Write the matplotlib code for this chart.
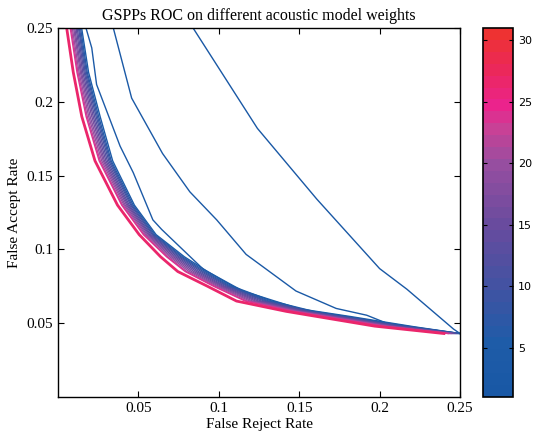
import numpy as np
import matplotlib
matplotlib.use("Agg")
import matplotlib.pyplot as plt
from matplotlib.colors import LinearSegmentedColormap, Normalize
from matplotlib.cm import ScalarMappable

# ---------------- data ----------------
title = "GSPPs ROC on different acoustic model weights"
xlabel = "False Reject Rate"
ylabel = "False Accept Rate"
xticks = [0.05, 0.1, 0.15, 0.2, 0.25]
yticks = [0.05, 0.1, 0.15, 0.2, 0.25]
cbar_ticks = [5, 10, 15, 20, 25, 30]

# outlying curves (weights 1-3): explicit (FR, FA) points
w1_fr = [0.084, 0.124, 0.161, 0.200, 0.217, 0.246, 0.250]
w1_fa = [0.250, 0.182, 0.134, 0.087, 0.073, 0.046, 0.043]

w2_fr = [0.0344, 0.0458, 0.065, 0.082, 0.0987, 0.117, 0.148, 0.173, 0.192, 0.206, 0.250]
w2_fa = [0.250, 0.2025, 0.165, 0.139, 0.120, 0.0966, 0.0718, 0.060, 0.0554, 0.0493, 0.043]

w3_fr = [0.0174, 0.021, 0.024, 0.0386, 0.0468, 0.059, 0.0645, 0.0904, 0.115, 0.150, 0.182, 0.222, 0.250]
w3_fa = [0.250, 0.2365, 0.2117, 0.170, 0.152, 0.120, 0.1135, 0.0865, 0.0718, 0.0598, 0.0545, 0.0475, 0.043]

# bundle curves: FR values at common FA levels
bundle_fa = [0.25, 0.22, 0.19, 0.16, 0.13, 0.11, 0.095, 0.085, 0.075, 0.065, 0.058, 0.053, 0.048, 0.043]
w4_fr = [0.0147, 0.0190, 0.0262, 0.0340, 0.0475, 0.0610, 0.0786, 0.0930, 0.1085, 0.1330, 0.1590, 0.1880, 0.2170, 0.2500]
w6_fr = [0.0140, 0.0182, 0.0253, 0.0331, 0.0467, 0.0602, 0.0774, 0.0915, 0.1073, 0.1312, 0.1576, 0.1865, 0.2154, 0.2492]
w8_fr = [0.0133, 0.0176, 0.0245, 0.0324, 0.0459, 0.0594, 0.0764, 0.0902, 0.1062, 0.1297, 0.1564, 0.1852, 0.2140, 0.2485]
w10_fr = [0.0127, 0.0169, 0.0237, 0.0316, 0.0452, 0.0587, 0.0753, 0.0889, 0.1051, 0.1282, 0.1553, 0.1839, 0.2126, 0.2478]
w12_fr = [0.0119, 0.0162, 0.0228, 0.0307, 0.0443, 0.0578, 0.0742, 0.0874, 0.1038, 0.1264, 0.1539, 0.1824, 0.2110, 0.2470]
w14_fr = [0.0112, 0.0154, 0.0219, 0.0298, 0.0435, 0.0570, 0.0730, 0.0860, 0.1026, 0.1246, 0.1525, 0.1810, 0.2094, 0.2462]
w16_fr = [0.0104, 0.0146, 0.0210, 0.0289, 0.0427, 0.0562, 0.0718, 0.0845, 0.1014, 0.1229, 0.1512, 0.1795, 0.2078, 0.2454]
w18_fr = [0.0097, 0.0139, 0.0200, 0.0281, 0.0418, 0.0553, 0.0706, 0.0830, 0.1001, 0.1211, 0.1498, 0.1780, 0.2062, 0.2446]
w20_fr = [0.0089, 0.0131, 0.0191, 0.0272, 0.0410, 0.0545, 0.0694, 0.0815, 0.0989, 0.1194, 0.1485, 0.1765, 0.2046, 0.2438]
w22_fr = [0.0082, 0.0124, 0.0182, 0.0263, 0.0401, 0.0536, 0.0682, 0.0800, 0.0976, 0.1176, 0.1471, 0.1750, 0.2030, 0.2430]
w24_fr = [0.0076, 0.0118, 0.0175, 0.0256, 0.0396, 0.0531, 0.0675, 0.0791, 0.0968, 0.1164, 0.1462, 0.1741, 0.2020, 0.2425]
w27_fr = [0.0054, 0.0095, 0.0148, 0.0230, 0.0370, 0.0505, 0.0638, 0.0745, 0.0930, 0.1110, 0.1420, 0.1695, 0.1970, 0.2400]

curves = [
    (1, w1_fr, w1_fa, 1.0),
    (2, w2_fr, w2_fa, 1.0),
    (3, w3_fr, w3_fa, 1.0),
    (4, w4_fr, bundle_fa, 1.0),
    (6, w6_fr, bundle_fa, 1.0),
    (8, w8_fr, bundle_fa, 1.0),
    (10, w10_fr, bundle_fa, 1.0),
    (12, w12_fr, bundle_fa, 1.0),
    (14, w14_fr, bundle_fa, 1.0),
    (16, w16_fr, bundle_fa, 1.0),
    (18, w18_fr, bundle_fa, 1.0),
    (20, w20_fr, bundle_fa, 1.0),
    (22, w22_fr, bundle_fa, 1.0),
    (24, w24_fr, bundle_fa, 1.0),
    (27, w27_fr, bundle_fa, 2.0),
]

# ---------------- style ----------------
plt.rcParams['font.family'] = ['Liberation Serif', 'DejaVu Serif']

anchors = [
    (0.00, (25/255, 88/255, 165/255)),
    (4/30, (30/255, 92/255, 168/255)),
    (9/30, (68/255, 82/255, 162/255)),
    (14/30, (105/255, 75/255, 158/255)),
    (19/30, (150/255, 78/255, 160/255)),
    (22/30, (200/255, 65/255, 150/255)),
    (24/30, (235/255, 35/255, 140/255)),
    (27/30, (235/255, 40/255, 90/255)),
    (1.00, (238/255, 50/255, 50/255)),
]
cmap = LinearSegmentedColormap.from_list("roc", anchors, N=31)
norm = Normalize(vmin=1, vmax=31)

fig = plt.figure(figsize=(5.37, 4.37), dpi=100)
ax = fig.add_axes([58/537, 1 - 397/437, (460 - 58)/537, (397 - 28)/437])
cax = fig.add_axes([483/537, 1 - 397/437, 30/537, (397 - 28)/437])

for w, fr, fa, lw in curves:
    ax.plot(fr, fa, color=cmap(norm(w)), lw=lw, solid_joinstyle='round')

ax.set_xlim(0, 0.25)
ax.set_ylim(0, 0.25)
ax.set_xticks(xticks)
ax.set_yticks(yticks)
ax.set_xticklabels([f"{t:g}" for t in xticks], fontsize=11)
ax.set_yticklabels([f"{t:g}" for t in yticks], fontsize=11)
ax.tick_params(direction='in', top=True, right=True, length=4, width=0.8)
for s in ax.spines.values():
    s.set_linewidth(1.0)
ax.set_title(title, fontsize=11.5, pad=6)
ax.set_xlabel(xlabel, fontsize=11, labelpad=2)
ax.set_ylabel(ylabel, fontsize=11, labelpad=4)

sm = ScalarMappable(norm=norm, cmap=cmap)
cb = fig.colorbar(sm, cax=cax, ticks=cbar_ticks)
cb.outline.set_linewidth(1.2)
cax.tick_params(direction='in', left=True, right=True, length=3, width=0.8, labelsize=8)
for lab in cax.get_yticklabels():
    lab.set_family('DejaVu Sans')

fig.savefig("out.png", dpi=100)
